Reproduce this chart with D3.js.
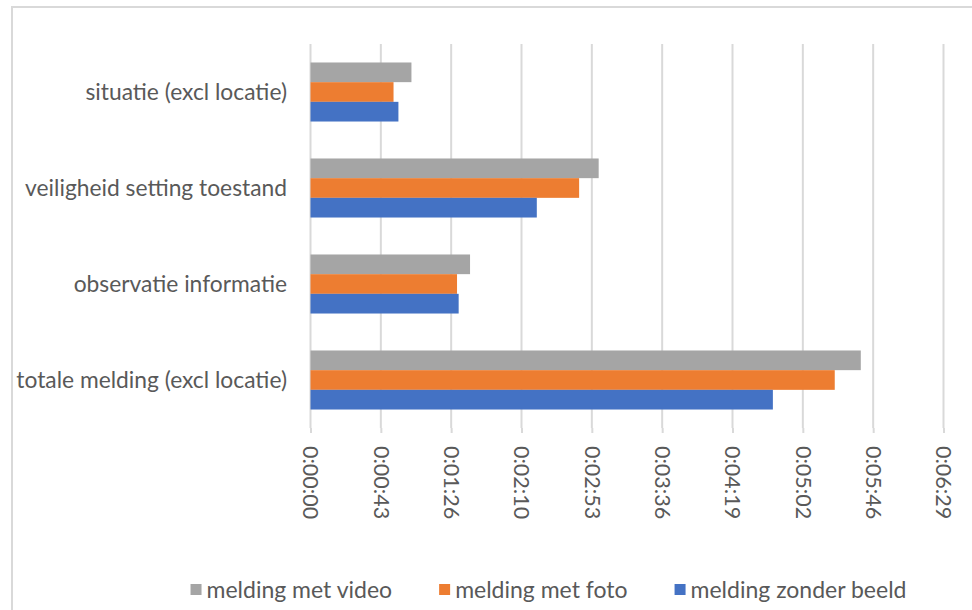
<!DOCTYPE html>
<html>
<head>
<meta charset="utf-8">
<style>
  body { margin: 0; background: #fff; }
  svg { display: block; }
  .cat, .tick text, .legend text {
    font-family: Lato, "Open Sans", sans-serif;
    fill: #595959;
  }
</style>
<script src="https://d3js.org/d3.v7.min.js"></script>
</head>
<body>
<div id="chart"></div>
<script>
// categories, top to bottom
var categories = [
  "situatie (excl locatie)",
  "veiligheid setting toestand",
  "observatie informatie",
  "totale melding (excl locatie)"
];

// series (drawn top to bottom inside each group)
var seriesNames = ["melding met video", "melding met foto", "melding zonder beeld"];
var seriesColors = ["#A5A5A5", "#ED7D31", "#4472C4"];

// durations in seconds
var videoSecs  = [62, 177, 98, 338];
var fotoSecs   = [51, 165, 90, 322];
var zonderSecs = [54, 139, 91, 284];

// value axis ticks: steps of 0.0005 day (43.2 s)
var tickSecs = [0, 43.2, 86.4, 129.6, 172.8, 216, 259.2, 302.4, 345.6, 388.8];

var seriesValues = [videoSecs, fotoSecs, zonderSecs];

var W = 972, H = 610;
var plot = {left: 310.5, right: 943.5, top: 44, bottom: 428};

var svg = d3.select("#chart").append("svg")
    .attr("width", W)
    .attr("height", H);

// chart frame (runs off the right and bottom of the picture)
svg.append("rect")
    .attr("x", 12).attr("y", 7)
    .attr("width", 1000).attr("height", 700)
    .attr("fill", "none")
    .attr("stroke", "#D9D9D9")
    .attr("stroke-width", 2);

var x = d3.scaleLinear()
    .domain([0, tickSecs[tickSecs.length - 1]])
    .range([plot.left, plot.right]);

var y = d3.scaleBand()
    .domain(categories)
    .range([plot.top, plot.bottom])
    .paddingInner(0.385)
    .paddingOuter(0.1925);

var ySub = d3.scaleBand()
    .domain(seriesNames)
    .range([0, y.bandwidth()]);

function fmt(s) {
  s = Math.round(s);
  var h = Math.floor(s / 3600), m = Math.floor((s % 3600) / 60), sec = s % 60;
  return h + ":" + String(m).padStart(2, "0") + ":" + String(sec).padStart(2, "0");
}

// gridlines
svg.append("g")
  .selectAll("line")
  .data(tickSecs)
  .join("line")
    .attr("x1", function(d) { return x(d); })
    .attr("x2", function(d) { return x(d); })
    .attr("y1", plot.top)
    .attr("y2", plot.bottom)
    .attr("stroke", "#D9D9D9")
    .attr("stroke-width", 2);

// value axis with rotated labels
var xAxis = svg.append("g")
    .attr("transform", "translate(0," + plot.bottom + ")")
    .call(d3.axisBottom(x).tickValues(tickSecs).tickFormat(fmt).tickSize(5).tickPadding(0));

xAxis.select(".domain").remove();
xAxis.selectAll(".tick line").attr("stroke", "#D9D9D9").attr("stroke-width", 2);
xAxis.selectAll(".tick text")
    .attr("transform", "rotate(90)")
    .attr("x", 18)
    .attr("y", 0)
    .attr("dy", "0.35em")
    .attr("text-anchor", "start")
    .style("font-size", "21.5px");

// bars
var groups = svg.append("g")
  .selectAll("g")
  .data(categories)
  .join("g")
    .attr("transform", function(d) { return "translate(0," + y(d) + ")"; });

groups.selectAll("rect")
  .data(function(d, i) {
    return seriesNames.map(function(s, j) {
      return {series: s, value: seriesValues[j][i], color: seriesColors[j]};
    });
  })
  .join("rect")
    .attr("x", x(0))
    .attr("y", function(d) { return ySub(d.series); })
    .attr("width", function(d) { return x(d.value) - x(0); })
    .attr("height", ySub.bandwidth())
    .attr("fill", function(d) { return d.color; });

// category labels
svg.append("g")
  .selectAll("text")
  .data(categories)
  .join("text")
    .attr("class", "cat")
    .attr("x", 287)
    .attr("y", function(d) { return y(d) + y.bandwidth() / 2; })
    .attr("dy", "0.35em")
    .attr("text-anchor", "end")
    .style("font-size", "22.8px")
    .text(function(d) { return d; });

// legend
var legend = svg.append("g").attr("class", "legend");
var lx = 0;
seriesNames.forEach(function(name, i) {
  var item = legend.append("g").attr("transform", "translate(" + lx + ",0)");
  item.append("rect")
      .attr("x", 0).attr("y", -6)
      .attr("width", 11).attr("height", 11)
      .attr("fill", seriesColors[i]);
  var t = item.append("text")
      .attr("x", 16)
      .attr("y", 0)
      .attr("dy", "0.35em")
      .style("font-size", "23px")
      .text(name);
  lx += 16 + t.node().getComputedTextLength() + 47;
});
var legendW = lx - 47;
legend.attr("transform", "translate(" + (548.5 - legendW / 2) + ",590)");
</script>
</body>
</html>
